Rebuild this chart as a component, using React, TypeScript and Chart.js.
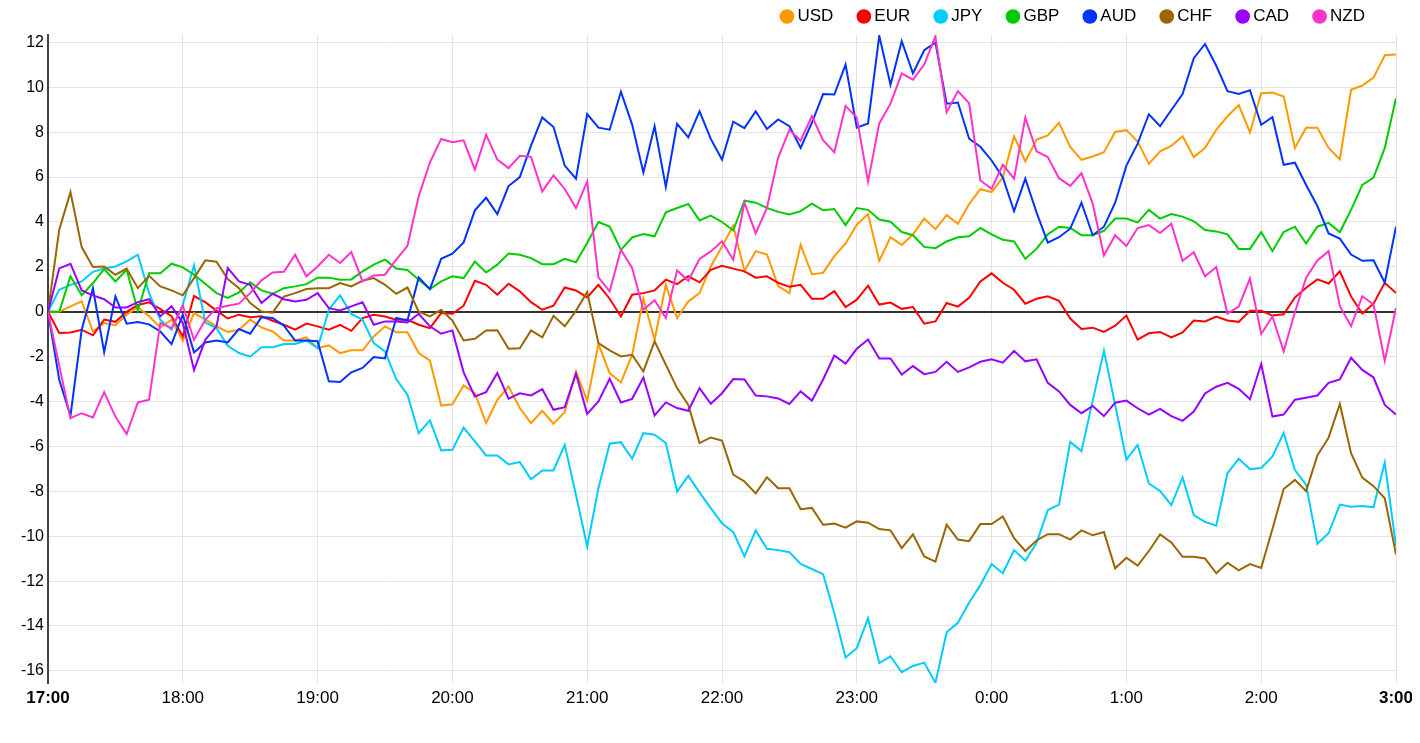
import { useEffect, useRef } from "react";
import { Chart, registerables } from "chart.js";

Chart.register(...registerables);

// hour labels along the bottom, one every 12 five-minute steps
const HOUR_LABELS = ["17:00", "18:00", "19:00", "20:00", "21:00", "22:00", "23:00", "0:00", "1:00", "2:00", "3:00"];
const Y_TICKS = [-16, -14, -12, -10, -8, -6, -4, -2, 0, 2, 4, 6, 8, 10, 12];

const CURRENCIES = ["USD", "EUR", "JPY", "GBP", "AUD", "CHF", "CAD", "NZD"];

// % change, 5 minute steps from 17:00 to 3:00
const USD = [
  0, 0, 0.24, 0.46, -0.88, -0.5, -0.6, -0.13, 0.2, -0.2, -0.7, -0.35,
  -1.3, -0.05, -0.35, -0.65, -0.9, -0.8, -0.35, -0.7, -0.88, -1.28, -1.28, -1.14,
  -1.62, -1.5, -1.84, -1.72, -1.72, -1.1, -0.65, -0.91, -0.91, -1.84, -2.18, -4.18,
  -4.12, -3.28, -3.63, -4.96, -3.92, -3.33, -4.29, -4.96, -4.41, -4.99, -4.47, -2.66,
  -3.97, -1.44, -2.73, -3.15, -1.92, 0.58, -1.25, 1.2, -0.28, 0.46, 0.83, 2.02,
  2.91, 3.83, 1.82, 2.7, 2.55, 1.14, 0.83, 2.98, 1.67, 1.73, 2.48, 3.04,
  3.88, 4.35, 2.27, 3.32, 2.98, 3.45, 4.15, 3.68, 4.3, 3.92, 4.8, 5.46,
  5.33, 5.98, 7.82, 6.7, 7.67, 7.86, 8.42, 7.34, 6.77, 6.92, 7.11, 8.01,
  8.09, 7.58, 6.59, 7.15, 7.39, 7.82, 6.89, 7.3, 8.1, 8.71, 9.21, 7.99,
  9.74, 9.77, 9.59, 7.3, 8.2, 8.2, 7.3, 6.79, 9.89, 10.08, 10.43, 11.43,
  11.46,
];
const EUR = [
  0, -0.95, -0.92, -0.8, -1.05, -0.35, -0.45, 0, 0.3, 0.42, 0.12, -0.2,
  -1.1, 0.7, 0.43, 0.05, -0.3, -0.13, -0.24, -0.2, -0.4, -0.58, -0.8, -0.53,
  -0.65, -0.8, -0.58, -0.85, -0.28, -0.13, -0.21, -0.36, -0.36, -0.58, -0.73, -0.06,
  -0.09, 0.27, 1.38, 1.2, 0.76, 1.25, 0.91, 0.43, 0.09, 0.27, 1.08, 0.95,
  0.64, 1.2, 0.58, -0.21, 0.76, 0.83, 0.95, 1.43, 1.23, 1.58, 1.31, 1.87,
  2.05, 1.92, 1.8, 1.52, 1.58, 1.29, 1.11, 1.2, 0.58, 0.58, 0.92, 0.21,
  0.54, 1.16, 0.32, 0.41, 0.13, 0.21, -0.53, -0.43, 0.39, 0.23, 0.62, 1.35,
  1.71, 1.29, 0.98, 0.36, 0.58, 0.69, 0.49, -0.3, -0.77, -0.71, -0.9, -0.62,
  -0.17, -1.24, -0.96, -0.9, -1.14, -0.92, -0.39, -0.43, -0.21, -0.39, -0.45, 0.04,
  0.04, -0.17, -0.11, 0.64, 1.07, 1.44, 1.26, 1.8, 0.68, -0.08, 0.36, 1.29,
  0.83,
];
const JPY = [
  0, 0.98, 1.2, 1.35, 1.78, 1.93, 2.02, 2.24, 2.54, 0.83, -0.36, -0.8,
  0.3, 2.07, -0.48, -0.73, -1.52, -1.84, -2.0, -1.58, -1.58, -1.44, -1.44, -1.28,
  -1.62, 0.09, 0.73, -0.1, -0.36, -1.4, -1.77, -3.0, -3.7, -5.41, -4.84, -6.18,
  -6.15, -5.16, -5.78, -6.4, -6.4, -6.8, -6.7, -7.46, -7.07, -7.07, -5.93, -8.16,
  -10.46, -7.86, -5.88, -5.81, -6.55, -5.41, -5.48, -5.85, -8.01, -7.31, -8.05, -8.75,
  -9.42, -9.82, -10.9, -9.74, -10.56, -10.62, -10.71, -11.24, -11.46, -11.69, -13.43, -15.4,
  -14.99, -13.66, -15.65, -15.35, -16.06, -15.78, -15.63, -16.53, -14.28, -13.86, -12.95, -12.18,
  -11.24, -11.65, -10.62, -11.09, -10.3, -8.84, -8.59, -5.8, -6.21, -3.96, -1.74, -4.15,
  -6.59, -5.93, -7.65, -7.99, -8.61, -7.38, -9.06, -9.36, -9.53, -7.19, -6.55, -7.02,
  -6.96, -6.45, -5.4, -7.05, -7.71, -10.34, -9.87, -8.59, -8.69, -8.65, -8.71, -6.72,
  -10.43,
];
const GBP = [
  0, 0, 1.58, 0.73, 1.28, 1.9, 1.35, 1.87, 0.05, 1.72, 1.72, 2.14,
  1.98, 1.65, 1.25, 0.83, 0.62, 0.86, 1.31, 0.95, 0.8, 1.05, 1.13, 1.23,
  1.52, 1.52, 1.43, 1.44, 1.8, 2.1, 2.32, 1.93, 1.86, 1.43, 1.01, 1.35,
  1.58, 1.5, 2.24, 1.75, 2.1, 2.59, 2.54, 2.39, 2.12, 2.12, 2.36, 2.2,
  3.06, 4.0, 3.8, 2.76, 3.31, 3.46, 3.36, 4.43, 4.62, 4.8, 4.07, 4.28,
  4.0, 3.62, 4.95, 4.86, 4.63, 4.45, 4.33, 4.48, 4.82, 4.52, 4.58, 3.86,
  4.62, 4.54, 4.11, 4.01, 3.55, 3.41, 2.89, 2.83, 3.13, 3.32, 3.36, 3.73,
  3.45, 3.21, 3.13, 2.36, 2.8, 3.45, 3.79, 3.73, 3.41, 3.41, 3.6, 4.15,
  4.15, 3.98, 4.54, 4.15, 4.35, 4.24, 4.03, 3.64, 3.58, 3.45, 2.8, 2.8,
  3.55, 2.7, 3.55, 3.79, 3.04, 3.79, 3.96, 3.55, 4.54, 5.65, 5.98, 7.3,
  9.51,
];
const AUD = [
  0, -3.03, -4.64, -0.8, 1.04, -1.8, 0.68, -0.53, -0.46, -0.56, -0.88, -1.44,
  -0.13, -1.81, -1.37, -1.28, -1.37, -0.77, -0.98, -0.24, -0.28, -0.62, -1.28, -1.28,
  -1.31, -3.1, -3.13, -2.7, -2.5, -2.02, -2.08, -0.28, -0.39, 1.53, 1.01, 2.36,
  2.59, 3.09, 4.52, 5.08, 4.35, 5.6, 6.0, 7.4, 8.66, 8.23, 6.51, 5.93,
  8.81, 8.2, 8.11, 9.8, 8.34, 6.21, 8.26, 5.56, 8.37, 7.77, 8.93, 7.7,
  6.78, 8.47, 8.18, 8.93, 8.14, 8.57, 8.27, 7.3, 8.42, 9.7, 9.68, 11.01,
  8.2, 8.39, 12.29, 10.11, 12.05, 10.62, 11.65, 11.99, 9.27, 9.32, 7.71, 7.35,
  6.74, 5.98, 4.48, 5.93, 4.43, 3.08, 3.32, 3.7, 4.86, 3.41, 3.79, 4.86,
  6.51, 7.49, 8.8, 8.27, 8.99, 9.7, 11.3, 11.93, 10.96, 9.83, 9.7, 9.87,
  8.33, 8.67, 6.55, 6.64, 5.65, 4.71, 3.49, 3.26, 2.55, 2.27, 2.29, 1.29,
  3.79,
];
const CHF = [
  0, 3.66, 5.33, 2.88, 1.99, 2.02, 1.65, 1.92, 1.05, 1.6, 1.13, 0.95,
  0.73, 1.5, 2.29, 2.23, 1.46, 1.05, 0.39, 0.01, -0.04, 0.68, 0.83, 1.01,
  1.05, 1.05, 1.28, 1.13, 1.38, 1.5, 1.2, 0.8, 1.08, 0, -0.21, 0.09,
  -0.39, -1.28, -1.2, -0.83, -0.82, -1.65, -1.63, -0.83, -1.14, -0.18, -0.65, 0.04,
  0.88, -1.4, -1.72, -1.99, -1.92, -2.66, -1.32, -2.36, -3.4, -4.15, -5.85, -5.6,
  -5.74, -7.25, -7.56, -8.09, -7.37, -7.86, -7.86, -8.8, -8.74, -9.49, -9.44, -9.62,
  -9.34, -9.4, -9.68, -9.74, -10.53, -9.92, -10.9, -11.13, -9.49, -10.15, -10.22, -9.46,
  -9.46, -9.12, -10.09, -10.66, -10.19, -9.91, -9.91, -10.15, -9.74, -9.96, -9.81, -11.43,
  -10.96, -11.31, -10.66, -9.92, -10.28, -10.92, -10.92, -10.99, -11.65, -11.18, -11.52, -11.24,
  -11.41, -9.68, -7.9, -7.49, -7.99, -6.4, -5.61, -4.11, -6.3, -7.39, -7.77, -8.31,
  -10.81,
];
const CAD = [
  0, 1.93, 2.14, 0.95, 0.73, 0.56, 0.19, 0.19, 0.43, 0.56, -0.2, 0.24,
  -0.5, -2.6, -1.25, -0.65, 1.95, 1.35, 1.2, 0.39, 0.8, 0.56, 0.46, 0.53,
  0.83, 0.16, 0.06, 0.24, 0.42, -0.58, -0.43, -0.43, -0.48, -0.09, -0.65, -0.98,
  -0.83, -2.7, -3.77, -3.58, -2.73, -3.87, -3.63, -3.73, -3.45, -4.37, -4.25, -2.76,
  -4.55, -4.0, -2.99, -4.04, -3.88, -2.93, -4.62, -4.04, -4.29, -4.41, -3.4, -4.1,
  -3.63, -3.0, -3.02, -3.73, -3.77, -3.86, -4.11, -3.55, -3.96, -3.02, -1.95, -2.31,
  -1.65, -1.24, -2.08, -2.08, -2.8, -2.42, -2.78, -2.68, -2.23, -2.68, -2.48, -2.23,
  -2.12, -2.27, -1.74, -2.21, -2.12, -3.17, -3.55, -4.15, -4.52, -4.2, -4.65, -4.05,
  -3.96, -4.3, -4.58, -4.33, -4.65, -4.86, -4.45, -3.64, -3.34, -3.17, -3.43, -3.9,
  -2.33, -4.67, -4.58, -3.92, -3.83, -3.73, -3.17, -3.02, -2.05, -2.59, -2.93, -4.15,
  -4.58,
];
const NZD = [
  0, -2.4, -4.74, -4.52, -4.71, -3.58, -4.67, -5.45, -4.04, -3.92, -0.5, -0.73,
  0.27, -1.25, -0.36, 0.16, 0.27, 0.36, 0.83, 1.4, 1.75, 1.78, 2.54, 1.58,
  2.02, 2.54, 2.17, 2.66, 1.35, 1.62, 1.65, 2.32, 2.94, 5.14, 6.66, 7.7,
  7.55, 7.64, 6.33, 7.89, 6.78, 6.4, 6.95, 6.9, 5.36, 6.08, 5.47, 4.62,
  5.81, 1.53, 0.91, 2.76, 1.95, 0.09, 0.51, -0.28, 1.84, 1.38, 2.35, 2.69,
  3.14, 2.32, 4.86, 3.49, 4.63, 6.87, 8.1, 7.62, 8.71, 7.64, 7.11, 9.17,
  8.65, 5.8, 8.39, 9.27, 10.62, 10.34, 11.01, 12.27, 8.89, 9.83, 9.29, 5.85,
  5.48, 6.55, 5.93, 8.65, 7.15, 6.89, 5.95, 5.61, 6.17, 4.82, 2.51, 3.41,
  2.93, 3.73, 3.86, 3.51, 3.92, 2.27, 2.65, 1.58, 1.99, -0.08, 0.23, 1.48,
  -0.99, -0.21, -1.76, -0.02, 1.52, 2.29, 2.7, 0.26, -0.64, 0.69, 0.32, -2.18,
  0.17,
];

const SERIES = [USD, EUR, JPY, GBP, AUD, CHF, CAD, NZD];
const COLORS = ["#ff9900", "#ff0000", "#00ccff", "#00cc00", "#0033ff", "#996600", "#9900ff", "#ff33cc"];

const FONT = "'Liberation Sans', Arial, sans-serif";

// legend sits a little left of the plot's right edge
const legendShift = {
  id: "legendShift",
  beforeDraw(chart: Chart) {
    if (chart.legend) chart.legend.right = chart.chartArea.right - 2.5;
  },
};

export default function App() {
  const canvasRef = useRef<HTMLCanvasElement | null>(null);

  useEffect(() => {
    if (!canvasRef.current) return;

    // minutes since 17:00 for every sample
    const minutes = USD.map((_, i) => i * 5);

    const chart = new Chart(canvasRef.current, {
      type: "line",
      data: {
        labels: minutes,
        datasets: SERIES.map((values, i) => ({
          label: CURRENCIES[i],
          data: values,
          borderColor: COLORS[i],
          backgroundColor: COLORS[i],
          borderWidth: 2,
          pointRadius: 0,
          tension: 0,
          order: SERIES.length - i,
        })),
      },
      options: {
        responsive: true,
        maintainAspectRatio: false,
        animation: false,
        events: [],
        layout: { padding: { top: -28.5, right: 16, bottom: 12, left: 0 } },
        plugins: {
          tooltip: { enabled: false },
          legend: {
            position: "top",
            align: "end",
            labels: {
              usePointStyle: true,
              pointStyle: "circle",
              boxWidth: 4,
              boxHeight: 9,
              padding: 28.5,
              color: "#000",
              font: { family: FONT, size: 17 },
              sort: (a, b) => (a.datasetIndex ?? 0) - (b.datasetIndex ?? 0),
            },
          },
        },
        scales: {
          x: {
            type: "linear",
            min: 0,
            max: (HOUR_LABELS.length - 1) * 60,
            afterBuildTicks: (scale) => {
              scale.ticks = HOUR_LABELS.map((_, k) => ({ value: k * 60 }));
            },
            afterFit: (scale) => {
              scale.height = 40;
              scale.paddingLeft = 0;
              scale.paddingRight = 0;
            },
            border: { display: false },
            grid: { color: "#e3e3e3", lineWidth: 1, drawTicks: false },
            ticks: {
              padding: 5,
              color: "#000",
              maxRotation: 0,
              autoSkip: false,
              font: (ctx) => ({
                family: FONT,
                size: 17,
                weight: ctx.index === 0 || ctx.index === HOUR_LABELS.length - 1 ? "bold" : "normal",
              }),
              callback: (_v, index) => HOUR_LABELS[index],
            },
          },
          y: {
            min: -16.54,
            max: 12.33,
            afterBuildTicks: (scale) => {
              scale.ticks = Y_TICKS.map((v) => ({ value: v }));
            },
            afterFit: (scale) => {
              scale.width = 40;
            },
            border: { display: true, color: "#444", width: 2 },
            grid: {
              drawTicks: false,
              color: (ctx) => (ctx.tick && ctx.tick.value === 0 ? "#333" : "#e3e3e3"),
              lineWidth: (ctx) => (ctx.tick && ctx.tick.value === 0 ? 2 : 1),
            },
            ticks: {
              padding: 4,
              color: "#000",
              autoSkip: false,
              font: { family: FONT, size: 16 },
            },
          },
        },
      },
      plugins: [legendShift],
    });

    return () => {
      chart.destroy();
    };
  }, []);

  return (
    <div style={{ position: "relative", width: 1404, height: 727 }}>
      <canvas ref={canvasRef} />
    </div>
  );
}
